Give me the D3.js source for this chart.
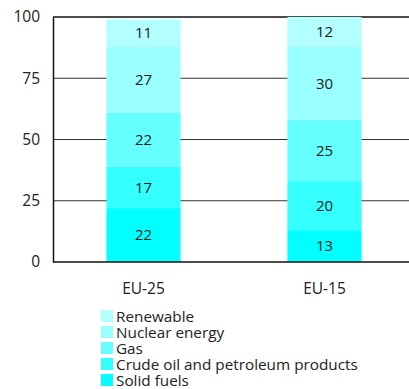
<!DOCTYPE html>
<html>
<head>
<meta charset="utf-8">
<script src="https://cdn.jsdelivr.net/npm/d3@7"></script>
<style>
  html, body { margin: 0; padding: 0; background: #fff; }
  svg { display: block; font-family: "Open Sans", "DejaVu Sans", sans-serif; }
</style>
</head>
<body>
<svg id="chart" width="409" height="389"></svg>
<script>
// Energy mix by source, percentage share of total
const regions = ["EU-25", "EU-15"];
const sources = ["Solid fuels", "Crude oil and petroleum products", "Gas", "Nuclear energy", "Renewable"];
const solidFuels = [22, 13];
const crudeOil = [17, 20];
const gas = [22, 25];
const nuclear = [27, 30];
const renewable = [11, 12];
const sourceColors = ["#00ffff", "#33ffff", "#66ffff", "#99ffff", "#b3ffff"];
const yTicks = [0, 25, 50, 75, 100];

const seriesValues = [solidFuels, crudeOil, gas, nuclear, renewable];
const rows = regions.map((r, i) => {
  const row = { region: r };
  sources.forEach((s, j) => { row[s] = seriesValues[j][i]; });
  return row;
});

const svg = d3.select("#chart");
const plot = { left: 53, right: 415, top: 17, bottom: 262 };

const x = d3.scaleBand().domain(regions).range([plot.left, plot.right]).paddingInner(0.59).paddingOuter(0.295);
const y = d3.scaleLinear().domain([0, 100]).range([plot.bottom, plot.top]);
const color = d3.scaleOrdinal().domain(sources).range(sourceColors);

// horizontal gridlines
svg.append("g")
  .selectAll("line")
  .data(yTicks.filter(t => t > 0))
  .join("line")
  .attr("x1", plot.left).attr("x2", 409)
  .attr("y1", d => y(d)).attr("y2", d => y(d))
  .attr("stroke", d => d === 100 ? "#111" : "#333")
  .attr("stroke-width", d => d === 100 ? 1.5 : 1);

// stacked bars
const stacked = d3.stack().keys(sources)(rows);
const layers = svg.append("g")
  .selectAll("g")
  .data(stacked)
  .join("g")
  .attr("fill", d => color(d.key));

layers.selectAll("rect")
  .data(d => d)
  .join("rect")
  .attr("x", d => x(d.data.region))
  .attr("width", x.bandwidth())
  .attr("y", d => y(d[1]))
  .attr("height", d => y(d[0]) - y(d[1]));

layers.selectAll("text")
  .data(d => d.map(v => ({ v, key: d.key })))
  .join("text")
  .attr("x", d => x(d.v.data.region) + x.bandwidth() / 2)
  .attr("y", d => (y(d.v[0]) + y(d.v[1])) / 2)
  .attr("dy", "0.36em")
  .attr("text-anchor", "middle")
  .attr("font-size", 15)
  .attr("fill", "#1a1a1a")
  .text(d => d.v.data[d.key]);

// y axis
const yAxis = svg.append("g")
  .attr("transform", `translate(${plot.left},0)`)
  .call(d3.axisLeft(y).tickValues(yTicks).tickSize(0).tickPadding(13));
yAxis.select(".domain").attr("stroke", "#111").attr("stroke-width", 1.5);
yAxis.selectAll("text").attr("font-size", 15.5).attr("fill", "#222")
  .attr("font-family", "\"Open Sans\", \"DejaVu Sans\", sans-serif");

// x axis
svg.append("line")
  .attr("x1", plot.left).attr("x2", 409)
  .attr("y1", plot.bottom).attr("y2", plot.bottom)
  .attr("stroke", "#111").attr("stroke-width", 1.5);

svg.append("g")
  .selectAll("text")
  .data(regions)
  .join("text")
  .attr("x", d => x(d) + x.bandwidth() / 2)
  .attr("y", 288)
  .attr("dy", "0.36em")
  .attr("text-anchor", "middle")
  .attr("font-size", 15.5)
  .attr("fill", "#222")
  .text(d => d);

// legend, top entry is the top of the stack
const legendItems = sources.slice().reverse();
const legend = svg.append("g")
  .selectAll("g")
  .data(legendItems)
  .join("g")
  .attr("transform", (d, i) => `translate(101, ${316 + i * 16})`);

legend.append("rect")
  .attr("x", 0).attr("y", -6)
  .attr("width", 12).attr("height", 12)
  .attr("fill", d => color(d));

legend.append("text")
  .attr("x", 15)
  .attr("dy", "0.36em")
  .attr("font-size", 15.3)
  .attr("fill", "#222")
  .text(d => d);
</script>
</body>
</html>
